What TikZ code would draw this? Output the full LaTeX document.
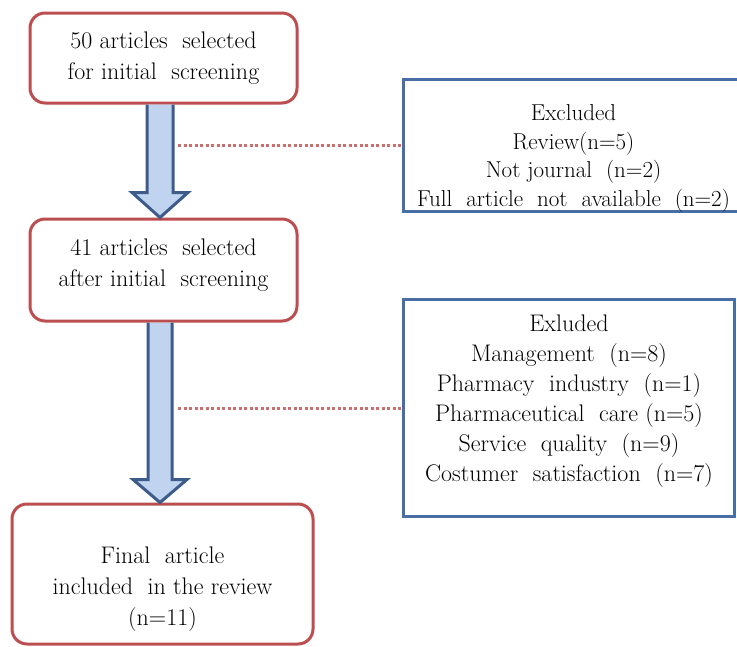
\documentclass[tikz,border=0pt]{standalone}
\usetikzlibrary{calc}
\definecolor{boxred}{RGB}{188,78,80}
\definecolor{boxblue}{RGB}{72,110,165}
\definecolor{arrfill}{RGB}{192,212,240}
\definecolor{arrline}{RGB}{62,92,138}
\definecolor{dotred}{RGB}{205,110,110}
\tikzset{
  redbox/.style={draw=boxred, line width=3pt, rounded corners=15pt, align=center, inner sep=0pt,
    font=\fontsize{24}{31}\selectfont},
  bluebox/.style={draw=boxblue, line width=3pt, align=center, inner sep=0pt,
    font=\fontsize{23.5}{29.5}\selectfont},
  blockarrow/.style={draw=arrline, fill=arrfill, line width=3pt, line join=miter},
  dotline/.style={draw=dotred, line width=3pt, dash pattern=on 3pt off 2.5pt}
}
\begin{document}
\begin{tikzpicture}[x=1pt,y=-1pt]
\useasboundingbox (0,0) rectangle (737,646);
\node[redbox, minimum width=267pt, minimum height=90pt] (b1) at (163.5,58) {50 articles\ \ selected\\for\ initial\ \ screening};
\node[redbox, minimum width=267pt, minimum height=102pt] (b2) at (163.5,270) {41 articles\ \ selected\\after\ initial\ \ screening\rule[-14pt]{0pt}{14pt}};
\node[redbox, minimum width=301pt, minimum height=140pt] (b3) at (162.5,574) {\rule{0pt}{46pt}Final\ \ article\\included\ \ in\ the review\\(n=11)};
\node[bluebox, minimum width=340pt, minimum height=131pt, anchor=north west, font=\fontsize{23}{28.5}\selectfont] (e1) at (402,78) {\rule{0pt}{41pt}Excluded\\Review(n=5)\\Not journal\ \ (n=2)\\Full\ \ article\ \ not\ \ available\ \ (n=2)};
\node[bluebox, minimum width=331pt, minimum height=217pt, anchor=north west, font=\fontsize{24}{30}\selectfont] (e2) at (402,298) {Exluded\\Management\ \ (n=8)\\Pharmacy\ \ industry\ \ (n=1)\\Pharmaceutical\ \ care (n=5)\\Service\ \ quality\ \ (n=9)\\Costumer\ \ satisfaction\ \ (n=7)\rule[-20pt]{0pt}{20pt}};
% block arrows
\coordinate (a1s) at ($(b1.south)+(-3.5,0)$);
\coordinate (a1t) at ($(b2.north)+(-3.5,0)$);
\draw[blockarrow] ($(a1s)+(-13,0)$) -- ($(a1t)+(-13,-25)$) -- ($(a1t)+(-28,-25)$) -- (a1t)
  -- ($(a1t)+(28,-25)$) -- ($(a1t)+(13,-25)$) -- ($(a1s)+(13,0)$);
\coordinate (a2s) at ($(b2.south)+(-3.5,0)$);
\coordinate (a2t) at ($(b3.north)+(-2.5,0)$);
\draw[blockarrow] ($(a2s)+(-12,0)$) -- ($(a2t)+(-12,-23)$) -- ($(a2t)+(-27,-23)$) -- (a2t)
  -- ($(a2t)+(27,-23)$) -- ($(a2t)+(12,-23)$) -- ($(a2s)+(12,0)$);
% dotted connectors
\coordinate (d1) at (178,0);
\draw[dotline] (d1 |- e1.west) -- (e1.west);
\coordinate (d2) at (178,0);
\draw[dotline] (d2 |- e2.west) -- (e2.west);
\end{tikzpicture}
\end{document}
